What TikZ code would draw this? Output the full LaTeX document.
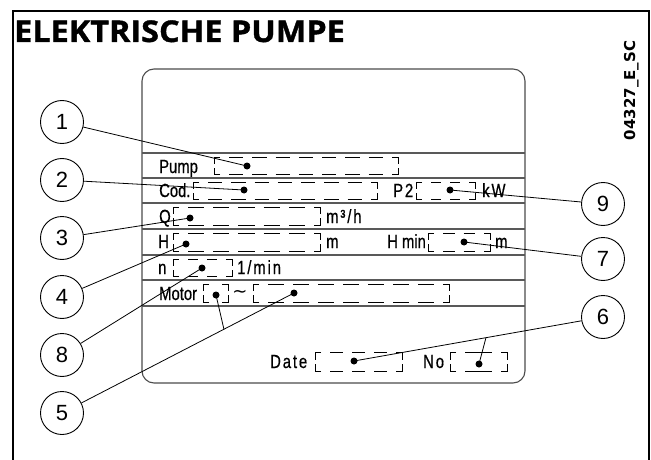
\documentclass[tikz,border=0pt]{standalone}
\usepackage{fontspec}
\setmainfont{Liberation Sans}
\newfontfamily\titlefont[FakeStretch=1.08,FakeBold=1.2]{Open Sans}
\newfontfamily\codefont{DejaVu Sans}
\newfontfamily\platefont[FakeStretch=0.78,FakeBold=0.6]{Liberation Sans}
\newfontfamily\platefontsp[FakeStretch=0.78,FakeBold=0.6,LetterSpace=10]{Liberation Sans}
\usetikzlibrary{calc}
\tikzset{
  plate/.style={inner sep=0pt, anchor=base west, font=\platefont\fontsize{19}{19}\selectfont},
  platesp/.style={inner sep=0pt, anchor=base west, font=\platefontsp\fontsize{19}{19}\selectfont},
  num/.style={draw, circle, minimum size=43pt, inner sep=0pt, line width=0.9pt, font=\fontsize{22}{22}\selectfont},
  dot/.style={circle, fill=black, inner sep=0pt, minimum size=7pt},
  lead/.style={line width=0.8pt},
  rowline/.style={line width=1.1pt, draw=black!65},
  plateframe/.style={line width=1.1pt, draw=black!70},
  boxline/.style={line width=0.9pt},
}
\newcommand\fieldbox[4]{%
  \pgfmathsetmacro\dbvt{(#4-#2-4)/2}%
  \draw[boxline] ({#1+6},#2) -- (#1,#2) -- (#1,{#2+\dbvt});
  \draw[boxline] ({#1+6},#4) -- (#1,#4) -- (#1,{#4-\dbvt});
  \draw[boxline] ({#3-6},#2) -- (#3,#2) -- (#3,{#2+\dbvt});
  \draw[boxline] ({#3-6},#4) -- (#3,#4) -- (#3,{#4-\dbvt});
  \pgfmathsetmacro\dbin{#3-#1-30}%
  \ifdim\dbin pt>8pt
    \pgfmathtruncatemacro\dbn{max(1,round((\dbin+9)/25))}%
    \pgfmathsetmacro\dbdl{(\dbin-(\dbn-1)*9)/\dbn}%
    \foreach \i in {1,...,\dbn}{
      \draw[boxline] ({#1+15+(\i-1)*(\dbdl+9)},#2) -- ++(\dbdl,0);
      \draw[boxline] ({#1+15+(\i-1)*(\dbdl+9)},#4) -- ++(\dbdl,0);
    }
  \fi
}
\begin{document}
\begin{tikzpicture}[x=1pt,y=-1pt]
\useasboundingbox (0,0) rectangle (651,460);
% outer frame
\draw[line width=2pt] (13,462) -- (13,11) -- (649,11) -- (649,462);
% title and code
\node[anchor=base west, inner sep=0pt] (title) at (14,42) {\titlefont\bfseries\fontsize{30}{30}\selectfont ELEKTRISCHE PUMPE};
\node[anchor=base, rotate=90, inner sep=0pt] (code) at (635,90.5) {\codefont\bfseries\fontsize{15}{15}\selectfont 04327\_E\_SC};
% plate
\draw[plateframe, rounded corners=12pt] (142,69) rectangle (525,383);
\foreach \yy in {153,178,203,229,255,280,306}
  \draw[rowline] (142,\yy) -- (525,\yy);
% texts
\node[plate] (tpump) at (159,173) {Pump};
\node[plate] (tcod) at (159,197) {Cod.};
\node[platesp] (tp2) at (393,197) {P2};
\node[platesp] (tkw) at (482,197) {kW};
\node[plate] (tq) at (159,223) {Q};
\node[platesp] (tm3h) at (326,223) {m³/h};
\node[plate] (th) at (158,248) {H};
\node[plate] (tm1) at (326,248) {m};
\node[plate] (thmin) at (387,248) {H min};
\node[plate] (tm2) at (495,248) {m};
\node[plate] (tn) at (158,274) {n};
\node[platesp] (tmin) at (237,274) {1/min};
\node[plate] (tmotor) at (159,300) {Motor};
\node[inner sep=0pt] (ttilde) at (240,294) {\codefont\fontsize{18}{18}\selectfont ∼};
\node[platesp] (tdate) at (270,368) {Date};
\node[platesp] (tno) at (423,368) {No};
% dashed boxes
\fieldbox{214}{157}{398}{174}
\fieldbox{193}{182}{377}{199}
\fieldbox{416}{182}{475}{199}
\fieldbox{173}{207}{320}{225}
\fieldbox{173}{233}{320}{251}
\fieldbox{428}{233}{490}{251}
\fieldbox{173}{259}{232}{276}
\fieldbox{203}{284}{228}{302}
\fieldbox{253}{284}{449}{302}
\fieldbox{315}{352}{402}{371}
\fieldbox{450}{352}{507}{371}
% dots
\node[dot] (d1) at (247,166) {};
\node[dot] (d2) at (244,190) {};
\node[dot] (d9) at (450,190) {};
\node[dot] (d3) at (190,218) {};
\node[dot] (d4) at (186,244) {};
\node[dot] (d7) at (464,242) {};
\node[dot] (d8) at (202,268) {};
\node[dot] (d5a) at (216,295) {};
\node[dot] (d5b) at (294,293) {};
\node[dot] (d6a) at (354,361) {};
\node[dot] (d6b) at (479,364) {};
% numbered circles
\node[num] (c1) at (62,122) {1};
\node[num] (c2) at (62,180) {2};
\node[num] (c3) at (62,238) {3};
\node[num] (c4) at (62,297) {4};
\node[num] (c8) at (62,355) {8};
\node[num] (c5) at (62,413) {5};
\node[num] (c9) at (603,204) {9};
\node[num] (c7) at (603,259) {7};
\node[num] (c6) at (603,317) {6};
% leaders
\draw[lead] (c1) -- (d1.center);
\draw[lead] (c2) -- (d2.center);
\draw[lead] (c3) -- (d3.center);
\draw[lead] (c4) -- (d4.center);
\draw[lead] (c8) -- (d8.center);
\draw[lead] (c5) -- (d5b.center);
\draw[lead] (c9) -- (d9.center);
\draw[lead] (c7) -- (d7.center);
\draw[lead] (c6) -- (d6a.center);
\coordinate (j5) at ($(c5.center)!0.698!(d5b.center)$);
\coordinate (j6) at ($(c6.center)!0.47!(d6a.center)$);
\draw[lead] (d5a.center) -- (j5);
\draw[lead] (d6b.center) -- (j6);
\end{tikzpicture}
\end{document}
